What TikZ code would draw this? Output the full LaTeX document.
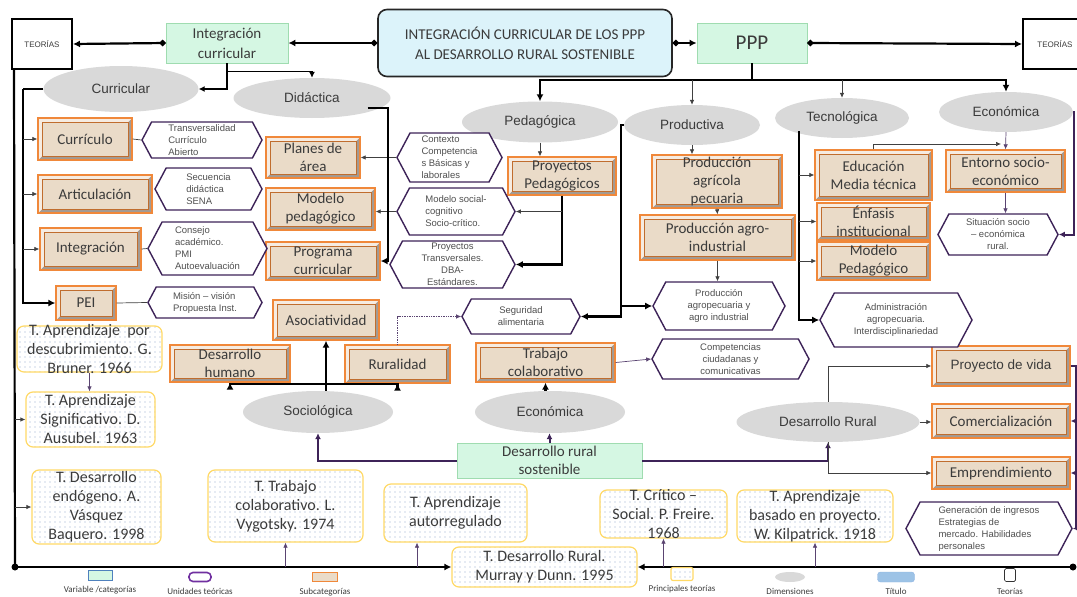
\documentclass[tikz,border=0pt]{standalone}
\usepackage{fontspec}
\setmainfont{Carlito}
\newfontfamily\arialfam{Liberation Sans}
\usetikzlibrary{arrows.meta, positioning, shapes.geometric, shapes.symbols, patterns.meta}
\definecolor{icTitle}{HTML}{DCF3FA}
\definecolor{icVar}{HTML}{D5F7E3}
\definecolor{icVarLine}{HTML}{9FDCB0}
\definecolor{icSub}{HTML}{EADBC8}
\definecolor{icSubLight}{HTML}{F6ECE2}
\definecolor{icOrange}{HTML}{F0883A}
\definecolor{icShade}{HTML}{A39A92}
\definecolor{icPurple}{HTML}{3D2358}
\definecolor{icDim}{HTML}{D9D9D9}
\definecolor{icTeo}{HTML}{FFD966}
\definecolor{icDot}{HTML}{97A9CC}
\definecolor{icText}{HTML}{3B3B3B}
\definecolor{icGray}{HTML}{505050}
\definecolor{icLgBlue}{HTML}{4F81BD}
\definecolor{icViolet}{HTML}{7030A0}
\definecolor{icLgTit}{HTML}{9DC3E6}
\definecolor{icLgTitLine}{HTML}{8FB4E3}
\newcommand{\icfix}[3]{\parbox[c][#1][c]{#2}{\centering #3}}
\tikzset{
  ic-size/.style 2 args={minimum width=#1pt, minimum height=#2pt},
  ic-title/.style={
    rectangle, rounded corners=9pt, draw=black!85, line width=1.6pt, fill=icTitle,
    inner sep=0pt, align=center, text=icText, font=\fontsize{15}{20}\selectfont
  },
  ic-var/.style={
    rectangle, draw=icVarLine, line width=0.8pt, fill=icVar,
    inner sep=0pt, align=center, text=icText, font=\fontsize{15}{20}\selectfont
  },
  ic-teo/.style={
    rectangle, draw=black, line width=2pt, fill=white,
    inner sep=0pt, text=icText, font=\arialfam\fontsize{8}{10}\selectfont
  },
  ic-dim/.style={
    ellipse, fill=icDim, inner sep=0pt, text=icText,
    font=\arialfam\fontsize{13.5}{16}\selectfont
  },
  ic-sub/.style={
    rectangle, draw=icOrange, line width=1.3pt, fill=icSub,
    inner sep=0pt, align=center, text=icText, font=\fontsize{15}{18}\selectfont,
    path picture={
      \fill[icShade] (path picture bounding box.north east) -- (path picture bounding box.south east)
        -- (path picture bounding box.south west) -- ([shift={(4pt,4pt)}]path picture bounding box.south west)
        -- ([shift={(-4pt,4pt)}]path picture bounding box.south east) -- ([shift={(-4pt,-4pt)}]path picture bounding box.north east) -- cycle;
      \fill[icSubLight] (path picture bounding box.north east) -- (path picture bounding box.north west)
        -- (path picture bounding box.south west) -- ([shift={(4pt,4pt)}]path picture bounding box.south west)
        -- ([shift={(4pt,-4pt)}]path picture bounding box.north west) -- ([shift={(-4pt,-4pt)}]path picture bounding box.north east) -- cycle;
      \draw[icOrange!80!black, line width=0.5pt] ([shift={(4pt,4pt)}]path picture bounding box.south west)
        rectangle ([shift={(-4pt,-4pt)}]path picture bounding box.north east);
    }
  },
  ic-hex/.style={
    signal, signal to=east and west, signal pointer angle=124, draw=icPurple, line width=1.4pt,
    fill=white, inner sep=0pt, align=center, text=icGray, font=\arialfam\fontsize{9.5}{12}\selectfont
  },
  ic-th/.style={
    rectangle, rounded corners=7pt, draw=icTeo, line width=1.2pt, preaction={fill=white},
    pattern={Dots[distance=5pt, radius=0.7pt]}, pattern color=icDot,
    inner sep=0pt, align=center, text=icText, font=\fontsize{16}{19}\selectfont
  },
  ic-big/.style={draw=black, line width=2.2pt, -{Latex[length=7pt, width=7pt]}},
  ic-mid/.style={draw=black, line width=1.5pt, -{Latex[length=6pt, width=6pt]}},
  ic-start/.style={{Circle[length=6pt]}-{Latex[length=7pt, width=7pt]}},
  ic-thin/.style={draw=black!75, line width=0.7pt, -{Latex[length=5pt, width=4.5pt]}},
  ic-purp/.style={draw=icPurple, line width=2pt, -{Latex[length=6pt, width=6pt]}},
  ic-purp-thin/.style={draw=icPurple!85, line width=0.7pt, -{Latex[length=5pt, width=4.5pt]}},
  ic-purp-dot/.style={draw=icPurple!85, line width=0.7pt, densely dotted, -{Latex[length=5pt, width=4.5pt]}},
  ic-lg/.style={font=\fontsize{9}{10}\selectfont, text=icText, inner sep=0pt},
}
\begin{document}
\begin{tikzpicture}[x=1pt, y=-1pt]
  \useasboundingbox (0,0) rectangle (1077,597);

  \node[ic-title, ic-size={294}{67}] (tit) at (525,43) {INTEGRACIÓN CURRICULAR DE LOS PPP\\AL DESARROLLO RURAL SOSTENIBLE};
  \node[ic-var, ic-size={122}{40}] (intc) at (227,43) {Integración\\curricular};
  \node[ic-var, ic-size={110}{40}, font=\fontsize{21}{24}\selectfont] (ppp) at (752,43) {PPP};
  \node[ic-teo, ic-size={60}{50}] (teoL) at (42,44) {TEORÍAS};
  \node[ic-teo, ic-size={64}{50}] (teoR) at (1055,44) {TEORÍAS};

  \node[ic-dim, ic-size={155}{46}] (curr) at (121,89) {Curricular};
  \node[ic-dim, ic-size={157}{40}] (did) at (312,98) {Didáctica};
  \node[ic-dim, ic-size={156}{41}] (ped) at (540,122) {Pedagógica};
  \node[ic-dim, ic-size={136}{40}] (prod) at (692,125) {Productiva};
  \node[ic-dim, ic-size={134}{40}] (tec) at (842,118) {Tecnológica};
  \node[ic-dim, ic-size={134}{40}] (eco) at (1006,112) {Económica};
  \node[ic-dim, ic-size={150}{42}] (soc) at (318,412) {Sociológica};
  \node[ic-dim, ic-size={150}{42}] (eco2) at (550,412) {Económica};
  \node[ic-dim, ic-size={183}{40}] (dr) at (828,422) {Desarrollo Rural};

  \node[ic-sub, ic-size={94}{42}] (curr1) at (85,139) {Currículo};
  \node[ic-sub, ic-size={114}{38}] (art) at (95,194) {Articulación};
  \node[ic-sub, ic-size={101}{42}] (integ) at (90.5,249) {Integración};
  \node[ic-sub, ic-size={60}{34}] (pei) at (86,303) {PEI};
  \node[ic-sub, ic-size={94}{41}] (plan) at (313,157.5) {Planes de\\área};
  \node[ic-sub, ic-size={109}{42}] (modp1) at (320.5,209) {Modelo\\pedagógico};
  \node[ic-sub, ic-size={114}{38}] (prog) at (323,261) {Programa\\curricular};
  \node[ic-sub, ic-size={108}{38}] (proyp) at (562,176) {Proyectos\\Pedagógicos};
  \node[ic-sub, ic-size={130}{53}] (pagr) at (717,181.5) {Producción\\agrícola\\pecuaria};
  \node[ic-sub, ic-size={155}{45}] (pind) at (717.5,237.5) {Producción agro-\\industrial};
  \node[ic-sub, ic-size={117}{50}] (edu) at (873.5,175) {Educación\\Media técnica};
  \node[ic-sub, ic-size={113}{37}] (enf) at (873.5,221.5) {Énfasis\\institucional};
  \node[ic-sub, ic-size={113}{38}] (modp2) at (873.5,261) {Modelo\\Pedagógico};
  \node[ic-sub, ic-size={119}{42}] (ent) at (1005.5,171) {Entorno socio-\\económico};
  \node[ic-sub, ic-size={106}{40}] (aso) at (326,320) {Asociatividad};
  \node[ic-sub, ic-size={120}{37}] (dh) at (230,363.5) {Desarrollo\\humano};
  \node[ic-sub, ic-size={105}{38}] (rur) at (397.5,364) {Ruralidad};
  \node[ic-sub, ic-size={139}{39}] (tcol) at (545.5,362.5) {Trabajo\\colaborativo};
  \node[ic-sub, ic-size={138}{40}, font=\arialfam\fontsize{13.5}{16}\selectfont] (pv) at (1001,366) {Proyecto de vida};
  \node[ic-sub, ic-size={138}{34}] (com) at (1001,421) {Comercialización};
  \node[ic-sub, ic-size={138}{32}] (emp) at (1001,473) {Emprendimiento};

  \node[ic-hex, ic-size={120}{36}, align=left] (h1) at (202,140) {Transversalidad\\Currículo\\Abierto};
  \node[ic-hex, ic-size={107}{42}, align=left] (h2) at (208.5,189) {Secuencia\\didáctica\\SENA};
  \node[ic-hex, ic-size={119}{53}, align=left] (h3) at (207.5,248.5) {Consejo\\académico.\\PMI\\Autoevaluación};
  \node[ic-hex, ic-size={114}{31}, align=left] (h4) at (205,302.5) {Misión – visión\\Propuesta Inst.};
  \node[ic-hex, ic-size={105}{49}, align=left] (h5) at (449.5,157.5) {Contexto\\Competencia\\s Básicas y\\laborales};
  \node[ic-hex, ic-size={118}{47}, align=left] (h6) at (456,211.5) {Modelo social-\\cognitivo\\Socio-crítico.};
  \node[ic-hex, ic-size={125}{47}] (h7) at (452.5,264.5) {Proyectos\\Transversales.\\DBA-\\Estándares.};
  \node[ic-hex, ic-size={118}{35}] (h8) at (521,316.5) {Seguridad\\alimentaria};
  \node[ic-hex, ic-size={132}{48}] (h9) at (719,306) {Producción\\agropecuaria y\\agro industrial};
  \node[ic-hex, ic-size={157}{40}] (h10) at (730.5,359) {Competencias\\ciudadanas y\\comunicativas};
  \node[ic-hex, ic-size={152}{54}] (h11) at (896,320) {Administración\\agropecuaria.\\Interdisciplinariedad};
  \node[ic-hex, ic-size={120}{41}] (h12) at (998,234.5) {Situación socio\\– económica\\rural.};
  \node[ic-hex, ic-size={166}{53}, align=left] (h13) at (989,528.5) {Generación de ingresos\\Estrategias de\\mercado. Habilidades\\personales};

  \node[ic-th, ic-size={145}{46}] (bru) at (89.5,349) {\icfix{40pt}{140pt}{T. Aprendizaje\ \ por\\descubrimiento. G.\\Bruner. 1966}};
  \node[ic-th, ic-size={129}{55}] (sig) at (90.5,419.5) {T. Aprendizaje\\Significativo. D.\\Ausubel. 1963};
  \node[ic-th, ic-size={129}{74}] (endo) at (96.5,507) {T. Desarrollo\\endógeno. A.\\Vásquez\\Baquero. 1998};
  \node[ic-th, ic-size={155}{72}] (vyg) at (285.5,506) {T. Trabajo\\colaborativo. L.\\Vygotsky. 1974};
  \node[ic-th, ic-size={143}{58}] (auto) at (455.5,513) {T. Aprendizaje\\autorregulado};
  \node[ic-th, ic-size={185}{40}] (mur) at (544.5,567) {T. Desarrollo Rural.\\Murray y Dunn. 1995};
  \node[ic-th, ic-size={127}{48}] (fre) at (663.5,514) {\icfix{40pt}{122pt}{T. Crítico –\\Social. P. Freire.\\1968}};
  \node[ic-th, ic-size={156}{52}] (kil) at (815,516) {\icfix{44pt}{150pt}{T. Aprendizaje\\basado en proyecto.\\W. Kilpatrick. 1918}};
  \node[ic-var, ic-size={185}{35}, font=\fontsize{15}{18}\selectfont] (drs) at (549.5,460.5) {Desarrollo rural\\sostenible};

  \draw[ic-big, ic-start] (tit.west) -- (intc.east);
  \draw[ic-big, ic-start] (intc.west) -- (teoL.east);
  \draw[ic-big, ic-start] (tit.east) -- (ppp.west);
  \draw[ic-big, ic-start] (ppp.east) -- (teoR.west);

  \draw[ic-mid] (intc.south) |- (curr.east);
  \draw[ic-mid] (intc.south) ++(0,8) -| (did.north);
  \coordinate (cL) at (23,89);
  \draw[ic-big, -] (curr.west) -- (cL);
  \draw[ic-big] (cL) |- (pei.west);
  \draw[ic-thin] (cL |- curr1.west) -- (curr1.west);
  \draw[ic-thin] (cL |- art.west) -- (art.west);
  \draw[ic-thin] (cL |- integ.west) -- (integ.west);
  \draw[ic-thin, -] (h1.west) -- (curr1.east);
  \draw[ic-thin, -] (h3.west) -- (integ.east);
  \draw[ic-thin, -] (h4.west) -- (pei.east);

  \coordinate (bus) at (752,80);
  \draw[ic-big, -] (ppp.south) -- (bus);
  \draw[ic-big] (bus) -| (ped.north);
  \draw[ic-big] (bus) -| (eco.north);
  \draw[ic-thin] (prod.north |- bus) -- (prod.north);
  \draw[ic-thin] (tec.north |- bus) -- (tec.north);

  \draw[ic-thin] (ped.south) -- (ped.south |- proyp.north);
  \draw[ic-big] (proyp.south) |- (h7.east);
  \draw[ic-thin] (proyp.south |- h6.east) -- (h6.east);
  \draw[ic-thin] (h5.west) -- (plan.east);
  \draw[ic-thin] (h6.west) -- (h6.west -| modp1.east);
  \coordinate (dj) at (388,108);
  \draw[ic-big] (did.south east |- dj) -- (dj) |- (prog.east);

  \coordinate (pj) at (621,125);
  \draw[ic-big] (prod.west) -- (pj) |- (h8.east);
  \draw[ic-big] (pj |- h9.west) -- (h9.west);
  \draw[ic-thin] (prod.south) -- (prod.south |- pagr.north);
  \draw[ic-thin] (pagr.south) -- (pind.north);
  \draw[ic-thin] (pind.south) -- (pind.south |- h9.north);

  \coordinate (tj) at (799,131);
  \draw[ic-big] (tj) |- (h11.west);
  \draw[ic-thin] (tj |- edu.west) -- (edu.west);
  \draw[ic-thin] (tj |- enf.west) -- (enf.west);
  \draw[ic-thin] (tj |- modp2.west) -- (modp2.west);

  \coordinate (ej) at (1001,144);
  \draw[ic-thin] (edu.north) |- (ej);
  \draw[ic-purp-thin] (eco.south) -- (ent.north);
  \draw[ic-purp-thin] (ent.south) -- (ent.south |- h12.north);
  \draw[ic-purp] (eco.east) -- ++(1,0) |- (h12.east);

  \draw[ic-purp] (drs.west) -| (soc.south);
  \draw[ic-purp] (drs.east) -| (dr.south);
  \draw[ic-purp] (drs.north) -- (drs.north |- eco2.south);
  \coordinate (sj) at (326,384);
  \draw[ic-big] (aso.south |- soc.north) -- (aso.south);
  \draw[ic-big] (sj) -| (dh.south);
  \draw[ic-big] (sj) -| (rur.south);
  \draw[ic-big] (tcol.south |- eco2.north) -- (tcol.south);
  \draw[ic-purp-dot] (rur.north) |- (h8.west);
  \draw[ic-purp-thin] (tcol.east) -- (h10.west);

  \draw[ic-thin] (dr.north) |- (pv.west);
  \draw[ic-thin] (dr.east) -- (dr.east -| com.west);
  \draw[ic-thin] (dr.south) |- (emp.west);
  \coordinate (rv) at (1076,366);
  \draw[ic-purp, -] (pv.east) -- (rv) -- (rv |- h13.east);
  \draw[ic-purp] (rv |- com.east) -- (com.east);
  \draw[ic-purp] (rv |- emp.east) -- (emp.east);
  \draw[ic-purp] (rv |- h13.east) -- (h13.east);

  \coordinate (lb) at (15,567);
  \coordinate (rb) at (1073,567);
  \draw[ic-big, -] ([xshift=3pt]teoL.south west) -- (lb);
  \draw[ic-big] (lb) -- (mur.west);
  \draw[ic-big] (rb) -- (mur.east);
  \fill (lb) circle (3.5pt);
  \fill (rb) circle (3.5pt);
  \draw[ic-thin] (lb |- sig.west) -- (sig.west);
  \draw[ic-thin] (lb |- endo.west) -- (endo.west);
  \draw[ic-purp-thin] (bru.south) -- (bru.south |- sig.north);
  \draw[ic-purp-thin] (lb -| vyg.south) -- (vyg.south);
  \draw[ic-purp-thin] (417,0 |- lb) -- (417,0 |- auto.south);
  \draw[ic-purp-thin] (lb -| fre.south) -- (fre.south);
  \draw[ic-purp-thin] (lb -| kil.south) -- (kil.south);

  \node[rectangle, draw=icLgBlue, fill=icVar, line width=0.8pt, ic-size={24}{10}] (lg1) at (100,575) {};
  \node[rectangle, rounded corners=4pt, draw=icViolet, line width=1.6pt, ic-size={22}{9}] (lg2) at (200,577) {};
  \node[rectangle, draw=icOrange, fill=icSub, line width=1.4pt, ic-size={25}{9}] (lg3) at (325,577) {};
  \node[ic-th, rounded corners=2pt, ic-size={22}{13}] (lg4) at (682,574) {};
  \node[ellipse, fill=icDim, ic-size={30}{10}] (lg5) at (790,577) {};
  \node[rectangle, rounded corners=3pt, fill=icLgTit, draw=icLgTitLine, ic-size={37}{10}] (lg6) at (896,577) {};
  \node[rectangle, rounded corners=1.5pt, draw=black!80, line width=0.7pt, ic-size={11}{13}] (lg7) at (1010,575) {};
  \node[ic-lg, below=6pt of lg1] (lg1t) {Variable /categorías};
  \node[ic-lg, below=6pt of lg2] (lg2t) {Unidades teóricas};
  \node[ic-lg, below=6pt of lg3] (lg3t) {Subcategorías};
  \node[ic-lg, below=4pt of lg4] (lg4t) {Principales teorías};
  \node[ic-lg, below=6pt of lg5] (lg5t) {Dimensiones};
  \node[ic-lg, below=6pt of lg6] (lg6t) {Título};
  \node[ic-lg, below=6pt of lg7] (lg7t) {Teorías};
\end{tikzpicture}
\end{document}
